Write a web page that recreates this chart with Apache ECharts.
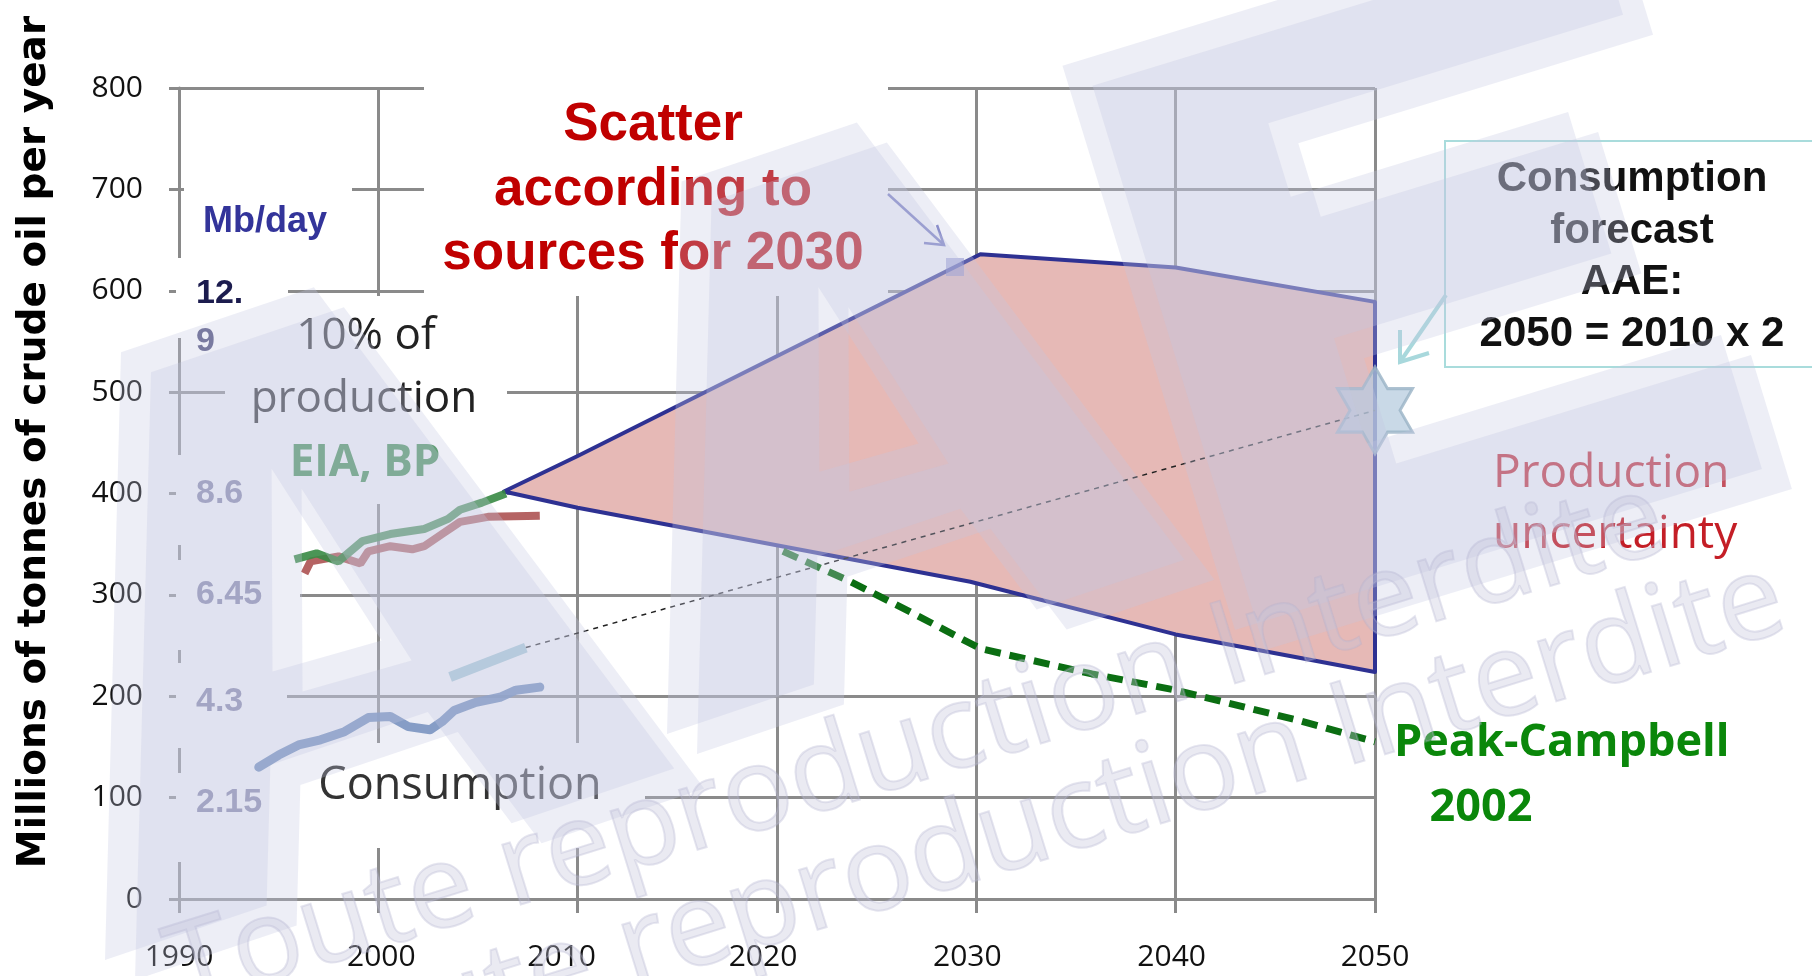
<!DOCTYPE html>
<html><head><meta charset="utf-8">
<script src="https://cdn.jsdelivr.net/npm/echarts@6/dist/echarts.min.js"></script>
<style>html,body{margin:0;padding:0;background:#fff;}#c{width:1812px;height:976px;}</style>
</head><body><div id="c"></div>
<script>
// ---------- data ----------
const xTicks = [1990, 2000, 2010, 2020, 2030, 2040, 2050];
const xTickShift = [0, 3, -16, -14, -9, -4, 0];
const yTicks = [0, 100, 200, 300, 400, 500, 600, 700, 800];
const mbdayLabels = ['2.15', '4.3', '6.45', '8.6'];
const mbdayAt = [100, 200, 300, 400];
const mbdayTop = ['12.', '9'];
const mbdayTopAt = 600;

const consYears = [1994.0, 1995.0, 1996.0, 1997.1, 1998.3, 1999.5, 2000.6, 2001.5, 2002.6, 2003.2, 2003.8, 2004.9, 2006.1, 2006.9, 2008.1];
const consVals  = [130, 142, 152, 157, 165, 179, 180, 170, 167, 175, 186, 194, 199, 206, 209];

const eiaYears = [1995.8, 1996.9, 1998.0, 1999.2, 2000.6, 2002.3, 2003.5, 2004.1, 2005.2, 2006.4];
const eiaVals  = [335, 341, 333, 353, 360, 365, 375, 384, 391, 400];

const bpYears = [1996.3, 1996.6, 1998.0, 1999.1, 1999.5, 2000.6, 2001.7, 2002.3, 2003.2, 2004.1, 2005.5, 2008.1];
const bpVals  = [321, 333, 338, 331, 343, 348, 345, 348, 360, 372, 377, 378];

const upperYears = [2006.3, 2010, 2030.2, 2040, 2050];
const upperVals  = [402, 437, 636, 623, 589];
const lowerYears = [2006.3, 2010, 2029.7, 2040, 2050];
const lowerVals  = [402, 386, 313, 261, 224];

const peakYears = [2020.3, 2023.7, 2026.8, 2030.2, 2035.8, 2040, 2046.2, 2050];
const peakVals  = [343, 313, 282, 247, 222, 206, 176, 155];

const fcSegYears = [2003.6, 2007.4];
const fcSegVals  = [219, 248];
const fcLineYears = [2007.4, 2050];
const fcLineVals  = [248, 482];
const starYear = 2050, starVal = 482;

const zip = (a, b) => a.map((v, i) => [v, b[i]]);

// ---------- chart ----------
const chart = echarts.init(document.getElementById('c'), null, {renderer: 'canvas', width: 1812, height: 976});
const GRID = '#8a8a8a';
const LBL = '"Open Sans", "Noto Sans", sans-serif';

const richX = {};
xTicks.forEach((t, i) => {
  const s = xTickShift[i];
  richX['s' + i] = {
    fontFamily: LBL, fontSize: 30, color: '#111',
    padding: s < 0 ? [0, -2 * s, 0, 0] : [0, 0, 0, 2 * s]
  };
});

const STAR = 'path://M100,0L128.87,50L186.6,50L157.74,100L186.6,150L128.87,150L100,200L71.13,150L13.4,150L42.26,100L13.4,50L71.13,50Z';

chart.setOption({
  animation: false,
  backgroundColor: '#ffffff',
  grid: {left: 179, right: 437, top: 88, bottom: 77, containLabel: false, outerBoundsMode: 'none'},
  xAxis: {
    type: 'value', min: xTicks[0], max: xTicks[xTicks.length - 1], interval: 10,
    axisLine: {show: true, onZero: false, lineStyle: {color: GRID, width: 3}},
    axisTick: {show: true, length: 14, lineStyle: {color: GRID, width: 3}},
    splitLine: {show: true, lineStyle: {color: GRID, width: 3}},
    axisLabel: {
      margin: 43, fontFamily: LBL, fontSize: 30, color: '#111',
      formatter: v => { const i = xTicks.indexOf(v); return '{s' + i + '|' + v + '}'; },
      rich: richX
    }
  },
  yAxis: {
    type: 'value', min: yTicks[0], max: yTicks[yTicks.length - 1], interval: 100,
    axisLine: {show: true, lineStyle: {color: GRID, width: 3}},
    axisTick: {show: true, length: 10, lineStyle: {color: GRID, width: 3}},
    splitLine: {show: true, lineStyle: {color: GRID, width: 3}},
    axisLabel: {margin: 36, fontFamily: LBL, fontSize: 30, color: '#111'}
  },
  series: [
    {
      type: 'custom', name: 'Production uncertainty', z: 2, silent: true,
      data: [[2030, 450]],
      renderItem: (params, api) => {
        const up = upperYears.map((y, i) => api.coord([y, upperVals[i]]));
        const lo = lowerYears.map((y, i) => api.coord([y, lowerVals[i]])).reverse();
        return {
          type: 'polygon',
          shape: {points: up.concat(lo)},
          style: {fill: '#e6b9b6', stroke: '#2e3192', lineWidth: 4, lineJoin: 'round'}
        };
      }
    },
    {type: 'line', name: 'Consumption', z: 3, data: zip(consYears, consVals), symbol: 'none',
     lineStyle: {color: '#5c7fb3', width: 9, opacity: 0.9, cap: 'round', join: 'round'}},
    {type: 'line', name: 'BP', z: 3, data: zip(bpYears, bpVals), symbol: 'none',
     lineStyle: {color: '#ad5252', width: 8, opacity: 0.9}},
    {type: 'line', name: 'EIA', z: 3, data: zip(eiaYears, eiaVals), symbol: 'none',
     lineStyle: {color: '#378a44', width: 8, opacity: 0.9}},
    {type: 'line', name: 'Forecast start', z: 3, data: zip(fcSegYears, fcSegVals), symbol: 'none',
     lineStyle: {color: '#a9ced8', width: 10}},
    {type: 'line', name: 'Forecast', z: 3, data: zip(fcLineYears, fcLineVals), symbol: 'none',
     lineStyle: {color: '#222', width: 1.5, type: [5, 5]}},
    {type: 'line', name: 'Peak-Campbell 2002', z: 3, data: zip(peakYears, peakVals), symbol: 'none',
     lineStyle: {color: '#0b6e12', width: 7, type: [16, 9]}},
    {type: 'scatter', name: 'AAE 2050', z: 4, data: [[starYear, starVal]], symbol: STAR, symbolSize: [75, 87],
     itemStyle: {color: 'rgba(182,204,222,0.92)', borderColor: '#9ab3c5', borderWidth: 3}}
  ]
});

// ---------- annotations (graphic) ----------
function txt(x, y, text, font, fill, align, valign, extra) {
  const st = Object.assign({text: text, font: font, fill: fill,
    align: align, verticalAlign: valign, textAlign: align, textVerticalAlign: valign}, extra || {});
  return {type: 'text', x: x, y: y, z: 50, silent: true, style: st};
}
const g = [];
// white label boxes hiding the grid
const boxes = [
  [424, 78, 464, 218], [184, 160, 168, 86], [176, 258, 112, 80], [225, 296, 282, 208],
  [176, 455, 60, 90], [176, 560, 124, 90], [176, 663, 111, 85], [176, 773, 124, 89], [300, 743, 345, 105]
];
boxes.forEach(b => g.push({type: 'rect', z: 1, silent: true, shape: {x: b[0], y: b[1], width: b[2], height: b[3]}, style: {fill: '#ffffff'}}));

// secondary Mb/day labels tied to the y scale
const BOLD = '"Liberation Sans", Arial, sans-serif';
mbdayLabels.forEach((t, i) => {
  const p = chart.convertToPixel({gridIndex: 0}, [xTicks[0], mbdayAt[i]]);
  g.push(txt(196, p[1] + (i < 2 ? 5 : 0), t, 'bold 34px ' + BOLD, '#8383a6', 'left', 'middle'));
});
const pTop = chart.convertToPixel({gridIndex: 0}, [xTicks[0], mbdayTopAt]);
g.push(txt(196, pTop[1] + 3, mbdayTop[0], 'bold 34px ' + BOLD, '#1c1c4e', 'left', 'middle'));
g.push(txt(196, pTop[1] + 51, mbdayTop[1], 'bold 34px ' + BOLD, '#5a5a85', 'left', 'middle'));
g.push(txt(203, 222, 'Mb/day', 'bold 36px ' + BOLD, '#33349a', 'left', 'middle'));

// y axis title
g.push({type: 'text', x: 35, y: 442, rotation: Math.PI / 2, z: 50, silent: true,
  style: {text: 'Millions of tonnes of crude oil per year', font: 'bold 39px "DejaVu Sans", Verdana, sans-serif', fill: '#000',
    align: 'center', verticalAlign: 'middle', textAlign: 'center', textVerticalAlign: 'middle'}});

// texts
g.push(txt(653, 190, 'Scatter\naccording to\nsources for 2030', 'bold 53px ' + BOLD, '#c00000', 'center', 'middle', {lineHeight: 64.5}));
g.push(txt(1632, 257, 'Consumption\nforecast\nAAE:\n2050 = 2010 x 2', 'bold 42px ' + BOLD, '#111', 'center', 'middle', {lineHeight: 51.7}));
g.push(txt(366, 336, '10% of', '44px ' + LBL, '#222', 'center', 'middle'));
g.push(txt(364, 399, 'production', '44px ' + LBL, '#222', 'center', 'middle'));
g.push(txt(365, 463, 'EIA, BP', 'bold 44px ' + LBL, '#3a8f4a', 'center', 'middle'));
g.push(txt(460, 786, 'Consumption', '45px ' + LBL, '#333', 'center', 'middle'));
g.push(txt(1493, 474, 'Production', '46px ' + LBL, '#c41e26', 'left', 'middle'));
g.push(txt(1493, 535, 'uncertainty', '46px ' + LBL, '#c41e26', 'left', 'middle'));
g.push(txt(1394, 743, 'Peak-Campbell', 'bold 45px ' + LBL, '#0a870a', 'left', 'middle'));
g.push(txt(1481, 808, '2002', 'bold 45px ' + LBL, '#0a870a', 'center', 'middle'));

// forecast box and arrows
g.push({type: 'rect', z: 40, silent: true, shape: {x: 1445, y: 141, width: 420, height: 226}, style: {fill: 'none', stroke: '#a9dcdc', lineWidth: 2}});
g.push({type: 'polyline', z: 40, silent: true, shape: {points: [[1446, 295], [1400, 362]]}, style: {stroke: '#a8d8dc', lineWidth: 4}});
g.push({type: 'polyline', z: 40, silent: true, shape: {points: [[1400, 330], [1400, 362], [1429, 353]]}, style: {stroke: '#a8d8dc', lineWidth: 4, fill: 'none'}});
g.push({type: 'polyline', z: 40, silent: true, shape: {points: [[888, 194], [944, 245]]}, style: {stroke: '#7276c0', lineWidth: 2.5}});
g.push({type: 'polyline', z: 40, silent: true, shape: {points: [[937, 225], [944, 245], [924, 243]]}, style: {stroke: '#7276c0', lineWidth: 2.5, fill: 'none'}});
g.push({type: 'rect', z: 40, silent: true, shape: {x: 946, y: 258, width: 18, height: 18}, style: {fill: 'rgba(120,125,200,0.55)'}});

// watermark: AAE letters + text
const A_SHAPE = [[0,0],[155,0],[199,120],[350,120],[390,0],[546,0],[375,519],[286,519],[286,375],[331,195],[228,200],[286,375],[286,519],[190,519]];
const E_SHAPE = [[0,0],[551,0],[551,140],[180,140],[180,250],[470,250],[470,398],[180,398],[180,475],[551,475],[551,590],[0,590]];
function rotPoly(pts, ox, oy, deg, sc) {
  const a = deg * Math.PI / 180, c = Math.cos(a), s = Math.sin(a);
  return pts.map(p => [ox + sc * (p[0] * c - p[1] * s), oy + sc * (-p[0] * s - p[1] * c)]);
}
const letters = [[A_SHAPE, 105, 960, 18.6, 1.1], [A_SHAPE, 667, 734, 18.6, 1], [E_SHAPE, 1235, 630, 17, 1]];
letters.forEach(L => {
  [[0, 0], [30, 20]].forEach(off => {
    g.push({type: 'polygon', z: 100, silent: true,
      shape: {points: rotPoly(L[0], L[1] + off[0], L[2] + off[1], L[3], L[4])},
      style: {fill: 'rgba(196,198,226,0.3)'}});
  });
});
[[917, 747], [1037, 827]].forEach(c => {
  g.push({type: 'text', x: c[0], y: c[1], rotation: 0.3, z: 100, silent: true,
    style: {text: 'Toute reproduction Interdite', font: '117px "Open Sans", sans-serif',
      fill: 'rgba(196,196,220,0.36)', stroke: 'rgba(175,175,205,0.32)', lineWidth: 2,
      align: 'center', verticalAlign: 'middle', textAlign: 'center', textVerticalAlign: 'middle'}});
});

chart.setOption({graphic: {elements: g}});
</script>
</body></html>
